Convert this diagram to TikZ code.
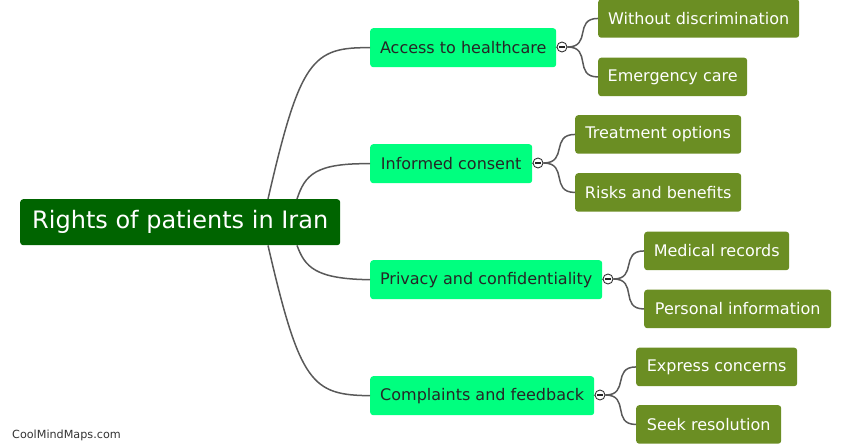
\documentclass[tikz,border=0pt]{standalone}
\usepackage{fontspec}
\setmainfont{DejaVu Sans}
\usetikzlibrary{calc}
\definecolor{rootg}{HTML}{006400}
\definecolor{lone}{HTML}{00FF7F}
\definecolor{ltwo}{HTML}{6B8E23}
\definecolor{conn}{HTML}{595959}
\begin{document}
\begin{tikzpicture}[x=1pt,y=-1pt,
  rootbox/.style={fill=rootg,text=white,rounded corners=3pt,anchor=north west,inner sep=0pt,font=\fontsize{24}{28}\selectfont},
  lonebox/.style={fill=lone,text=black!85,rounded corners=3pt,anchor=north west,inner sep=0pt,minimum height=39pt,font=\fontsize{16}{19}\selectfont},
  ltwobox/.style={fill=ltwo,text=white,rounded corners=3pt,anchor=north west,inner sep=0pt,minimum height=38.5pt,font=\fontsize{16}{19}\selectfont},
  togg/.style={circle,draw=black!80,fill=white,line width=0.9pt,minimum size=10pt,inner sep=0pt,
     path picture={\draw[line width=1.1pt,black!85] ([xshift=-2.6pt]path picture bounding box.center)--([xshift=2.6pt]path picture bounding box.center);}},
  link/.style={draw=conn,line width=1.5pt},
  scurve/.style={out=0,in=180,looseness=1.5}]
\useasboundingbox (0,0) rectangle (863,444);
% root
\node[rootbox,minimum width=320pt,minimum height=46pt] (root) at (20,199) {Rights of patients in Iran};
% level 1
\node[lonebox,minimum width=186pt] (a) at (370,28) {Access to healthcare};
\node[lonebox,minimum width=162pt] (b) at (370,144) {Informed consent};
\node[lonebox,minimum width=232pt] (c) at (370,260) {Privacy and confidentiality};
\node[lonebox,minimum width=224pt] (d) at (370,376) {Complaints and feedback};
% toggles
\node[togg] (ta) at (562,47) {};
\node[togg] (tb) at (538,163) {};
\node[togg] (tc) at (608,279) {};
\node[togg] (td) at (600,395) {};
% level 2
\node[ltwobox,minimum width=201pt] (a1) at (598,-1) {Without discrimination};
\node[ltwobox,minimum width=149pt] (a2) at (598,57.5) {Emergency care};
\node[ltwobox,minimum width=166pt] (b1) at (575,115) {Treatment options};
\node[ltwobox,minimum width=166pt] (b2) at (575,173) {Risks and benefits};
\node[ltwobox,minimum width=145pt] (c1) at (644,231.5) {Medical records};
\node[ltwobox,minimum width=187pt] (c2) at (644,289.5) {Personal information};
\node[ltwobox,minimum width=161pt] (d1) at (636,347.5) {Express concerns};
\node[ltwobox,minimum width=145pt] (d2) at (636,405) {Seek resolution};
% root connectors
\path[link] ($(root.north west)+(248,0)$) .. controls (300,60) and (312,47) .. (a.west);
\path[link] ($(root.north west)+(277,0)$) .. controls (305,175) and (315,163) .. (b.west);
\path[link] ($(root.south west)+(277,0)$) .. controls (305,267) and (315,279) .. (c.west);
\path[link] ($(root.south west)+(248,0)$) .. controls (300,384) and (312,395) .. (d.west);
% level 1 to toggles
\path[link] (a.east) -- (ta.west);
\path[link] (b.east) -- (tb.west);
\path[link] (c.east) -- (tc.west);
\path[link] (d.east) -- (td.west);
% toggles to children
\foreach \t/\k in {ta/a1,ta/a2,tb/b1,tb/b2,tc/c1,tc/c2,td/d1,td/d2}{
  \path[link] (\t.east) to[scurve] (\k.west);
}
\node[anchor=west,inner sep=0pt,text=black!80,font=\fontsize{11.2}{13}\selectfont] (foot) at (12,435) {CoolMindMaps.com};
\end{tikzpicture}
\end{document}
